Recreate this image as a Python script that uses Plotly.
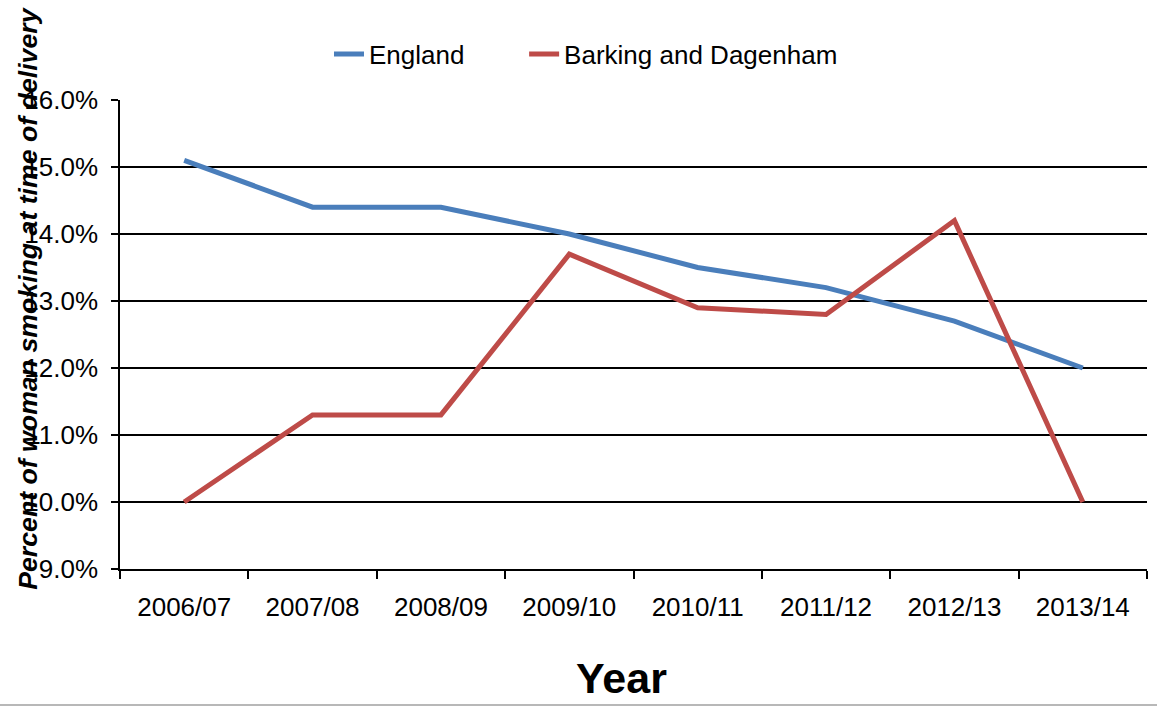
import plotly.graph_objects as go

years = ["2006/07", "2007/08", "2008/09", "2009/10", "2010/11", "2011/12", "2012/13", "2013/14"]
england = [15.1, 14.4, 14.4, 14.0, 13.5, 13.2, 12.7, 12.0]
barking = [10.0, 11.3, 11.3, 13.7, 12.9, 12.8, 14.2, 10.0]
y_ticks = [9, 10, 11, 12, 13, 14, 15, 16]

FONT = "Liberation Sans, Arial, sans-serif"

fig = go.Figure()
fig.add_trace(go.Scatter(x=years, y=england, mode="lines", name="England",
                         line=dict(color="#4A7EBB", width=5), legend="legend"))
fig.add_trace(go.Scatter(x=years, y=barking, mode="lines", name="Barking and Dagenham",
                         line=dict(color="#BE4B48", width=5), legend="legend2"))

leg_common = dict(orientation="h", yanchor="middle", xanchor="left",
                  font=dict(size=26, family=FONT), bgcolor="rgba(0,0,0,0)")

fig.update_layout(
    width=1157, height=708,
    margin=dict(l=120, r=10, t=100, b=139),
    paper_bgcolor="white", plot_bgcolor="white",
    font=dict(family=FONT, size=26, color="black"),
    showlegend=True,
    legend=dict(x=0.2035, y=1.098, **leg_common),
    legend2=dict(x=0.3935, y=1.098, **leg_common),
    xaxis=dict(type="category", range=[-0.5, 7.5], tickson="boundaries",
               ticks="outside", ticklen=8, tickcolor="black", tickwidth=1.5,
               showline=True, linecolor="black", linewidth=1.5,
               showgrid=False, tickfont=dict(size=26), ticklabelstandoff=14),
    yaxis=dict(range=[9, 16], tickvals=y_ticks,
               ticktext=[f"{v:.1f}%" for v in y_ticks],
               ticks="outside", ticklen=7, tickcolor="black", tickwidth=1.5,
               showline=True, linecolor="black", linewidth=1.5,
               showgrid=True, gridcolor="black", gridwidth=1.5,
               zeroline=False, tickfont=dict(size=26), ticklabelstandoff=8),
)

fig.add_annotation(text="<b><i>Percent of woman smoking at time of delivery</i></b>",
                   xref="paper", yref="paper", x=-0.0896, y=0.576,
                   xanchor="center", yanchor="middle", textangle=-90,
                   showarrow=False, font=dict(size=26.7, family=FONT))
fig.add_annotation(text="<b>Year</b>", xref="paper", yref="paper",
                   x=0.488, y=-0.233, xanchor="center", yanchor="middle",
                   showarrow=False, font=dict(size=43, family=FONT))
fig.add_shape(type="line", xref="paper", yref="paper", x0=-0.2, x1=1.02,
              y0=-0.29, y1=-0.29, line=dict(color="#A0A0A0", width=1.5))

fig.write_html("out.html")
